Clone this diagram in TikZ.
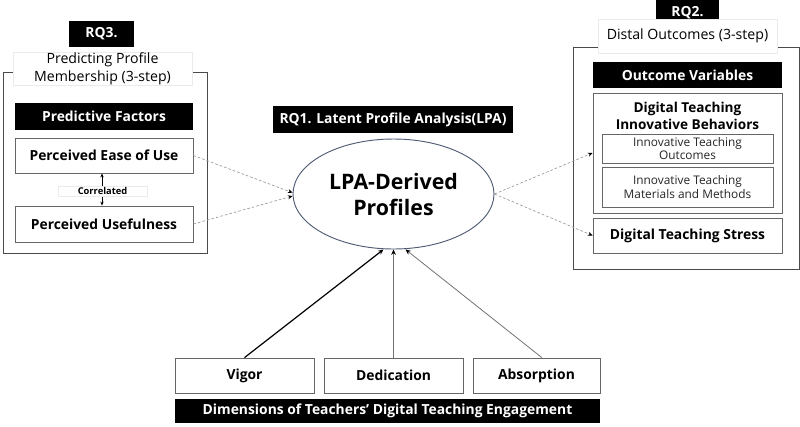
\documentclass[tikz,border=0pt]{standalone}
\usepackage{fontspec}
\setmainfont{Open Sans}
\usetikzlibrary{shapes.geometric,arrows.meta}

\definecolor{framegray}{HTML}{4A4A4A}
\definecolor{boxgray}{HTML}{666666}
\definecolor{dashgray}{HTML}{9A9A9A}
\definecolor{ellblue}{HTML}{4F5B73}

\begin{document}
\begin{tikzpicture}[x=0.75pt, y=-0.75pt,
    dim/.style 2 args={minimum width=#1*0.75pt, minimum height=#2*0.75pt},
    blackbox/.style={fill=black, text=white, font=\fontsize{10.4}{12}\selectfont\bfseries, inner sep=0pt},
    whitebox/.style={draw=boxgray, fill=white, line width=0.6pt, font=\fontsize{10.4}{13}\selectfont\bfseries, align=center, inner sep=0pt},
    subbox/.style={draw=boxgray, fill=white, line width=0.6pt, font=\fontsize{8.9}{10.2}\selectfont, text=black!85, align=center, inner sep=0pt},
    frame/.style={draw=framegray, line width=0.7pt, inner sep=0pt},
    tag/.style={draw=black!8, fill=white, font=\fontsize{10.6}{13.2}\selectfont, align=center, inner sep=0pt},
    dashlink/.style={dash pattern=on 2pt off 1.5pt, dashgray, line width=0.5pt, -{Stealth[black, length=3.5pt, width=3pt]}}]
  \useasboundingbox (0,0) rectangle (800,426);

  % RQ3: predictors
  \node[frame, dim={204}{181}] (leftframe) at (105,162.5) {};
  \node[blackbox, dim={65}{26}] (rqthree) at (101.5,34) {RQ3.};
  \node[tag, dim={179}{33}] (lefttag) at (102.5,68.5) {Predicting Profile\\Membership (3-step)};
  \node[blackbox, dim={178}{27}] (predictive) at (104,116.5) {Predictive Factors};
  \node[whitebox, dim={178}{35}] (ease) at (104,155.5) {Perceived Ease of Use};
  \node[whitebox, dim={178}{36}] (useful) at (104,224) {Perceived Usefulness};
  \draw[{Stealth[length=3pt, width=2.5pt]}-{Stealth[length=3pt, width=2.5pt]}, line width=0.6pt] ([xshift=-1.5pt]ease.south) -- ([xshift=-1.5pt]useful.north);
  \node[tag, dim={89}{10}, font=\fontsize{7}{7}\selectfont\bfseries] (correlated) at (102.5,191) {Correlated};

  % RQ2: outcomes
  \node[frame, dim={226}{222}] (rightframe) at (686,158) {};
  \node[blackbox, dim={63}{26}] (rqtwo) at (687.5,13) {RQ2.};
  \node[tag, dim={179}{34}] (righttag) at (687.5,36) {Distal Outcomes (3-step)};
  \node[blackbox, dim={189}{26}] (outcome) at (687.5,75) {Outcome Variables};
  \node[whitebox, dim={189}{120}] (innov) at (687.5,153) {};
  \node[font=\fontsize{10.2}{13.3}\selectfont\bfseries, align=center, inner sep=0pt] (innovtitle) at (687.5,116) {Digital Teaching\\Innovative Behaviors};
  \node[subbox, dim={171}{29}] (itoutcomes) at (687.5,148.5) {Innovative Teaching\\Outcomes};
  \node[subbox, dim={171}{40}] (itmaterials) at (687.5,187) {Innovative Teaching\\Materials and Methods};
  \node[whitebox, dim={189}{35}] (stress) at (687.5,235.5) {Digital Teaching Stress};

  % RQ1: LPA
  \node[blackbox, dim={240}{27}] (rqone) at (393,119.5) {RQ1. Latent Profile Analysis(LPA)};
  \node[ellipse, draw=ellblue, line width=0.7pt, dim={201}{110}, inner sep=0pt, align=center,
        font=\fontsize{16}{19.5}\selectfont\bfseries] (lpa) at (393.5,194) {LPA-Derived\\Profiles};

  % engagement dimensions
  \node[whitebox, dim={139}{35}] (vigor) at (244.5,375.5) {Vigor};
  \node[whitebox, dim={139}{35}] (dedication) at (393.5,375.5) {Dedication};
  \node[whitebox, dim={127}{35}] (absorption) at (536.5,375.5) {Absorption};
  \node[blackbox, dim={425}{24}] (dimensions) at (387.5,411) {Dimensions of Teachers’ Digital Teaching Engagement};

  % links
  \draw[dashlink] (ease.east) -- ([yshift=1pt]lpa.west);
  \draw[dashlink] (useful.east) -- ([yshift=-1.5pt]lpa.west);
  \draw[dashlink] (lpa.east) -- (innov.west);
  \draw[dashlink] (lpa.east) -- (stress.west);
  \draw[-{Stealth[length=4pt, width=3.5pt]}, line width=0.9pt] (vigor.north) -- ([xshift=-7.5pt]lpa.south);
  \draw[-{Stealth[black, length=4pt, width=3.5pt]}, line width=0.6pt, black!55] (dedication.north) -- (lpa.south);
  \draw[-{Stealth[black, length=4pt, width=3.5pt]}, line width=0.6pt, black!55] ([xshift=4pt]absorption.north) -- ([xshift=9pt]lpa.south);
\end{tikzpicture}
\end{document}
